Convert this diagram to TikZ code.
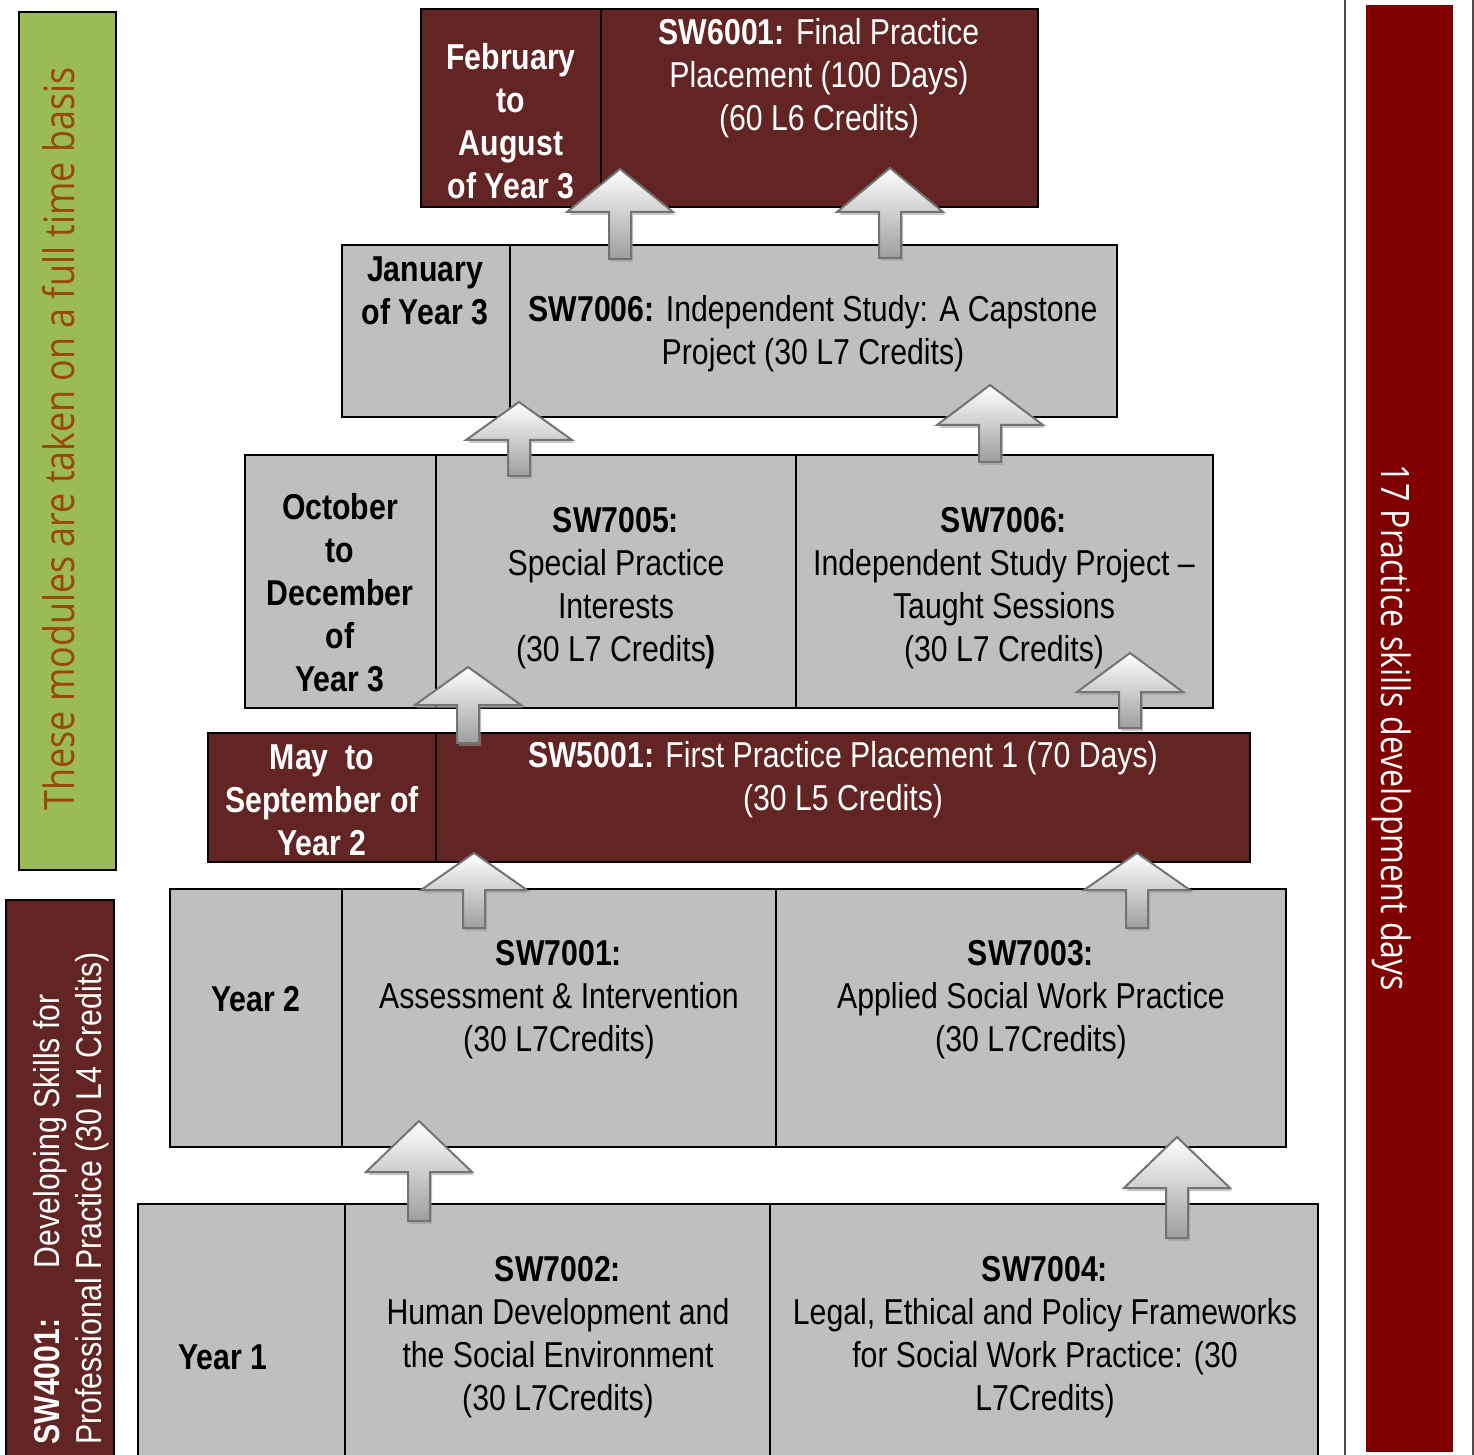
\documentclass[tikz,border=0pt]{standalone}
\usepackage{fontspec}
\setmainfont{Liberation Sans}[FakeStretch=0.84]
\newfontfamily\sidefont{Open Sans}[FakeStretch=0.82]
\newfontfamily\greenfont{Open Sans}[FakeStretch=0.855]
\definecolor{cellred}{HTML}{632523}
\definecolor{cellgrey}{HTML}{BFBFBF}
\definecolor{bargreen}{HTML}{9BBB59}
\definecolor{greentext}{HTML}{984807}
\definecolor{barred}{HTML}{800000}
\newcommand\upblockarrow[4]{%
  \fill[black!40,opacity=.55,shift={(2,3)}] (#1,#2) -- ({#1+53},#3) -- ({#1+11},#3) -- ({#1+11},#4) -- ({#1-11},#4) -- ({#1-11},#3) -- ({#1-53},#3) -- cycle;
  \draw[blockarr] (#1,#2) -- ({#1+53},#3) -- ({#1+11},#3) -- ({#1+11},#4) -- ({#1-11},#4) -- ({#1-11},#3) -- ({#1-53},#3) -- cycle;
}
\begin{document}
\begin{tikzpicture}[x=0.5pt,y=-0.5pt,
  redcell/.style={fill=cellred,draw=black,line width=1pt},
  greycell/.style={fill=cellgrey,draw=black,line width=1pt},
  txt/.style={font=\fontsize{18}{21.5}\selectfont,align=center,inner sep=0pt},
  wtxt/.style={txt,text=white},
  blockarr/.style={draw=black!55,line width=1pt,line join=miter,top color=white,bottom color=black!38}]
\useasboundingbox[fill=white] (0,0) rectangle (1474,1455);

% side bars
\draw[fill=bargreen,line width=1pt] (19,12) rectangle (116,870);
\node[font=\greenfont\fontsize{21}{25}\selectfont,text=greentext,rotate=90,anchor=base,inner sep=0pt] (greenlbl) at (74,439) {These modules are taken on a full time basis};

\draw[fill=cellred,line width=1pt] (6,900) rectangle (114,1470);
\node[font=\fontsize{18}{21.5}\selectfont,text=white,rotate=90,anchor=base west,inner sep=0pt] (sw4001a) at (59,1445) {\textbf{SW4001:}\hspace{1.4em}Developing Skills for};
\node[font=\fontsize{18}{21.5}\selectfont,text=white,rotate=90,anchor=base west,inner sep=0pt] (sw4001b) at (101,1445) {Professional Practice (30 L4 Credits)};

\draw[black!70,line width=1pt] (1345,-10) -- (1345,1470);
\draw[black!70,line width=1pt] (1473,-10) -- (1473,1470);
\fill[barred] (1366,5) rectangle (1453,1452);
\node[font=\sidefont\fontsize{19.6}{24}\selectfont,text=white,rotate=-90,anchor=base,inner sep=0pt] (daylbl) at (1381,728) {17 Practice skills development days};

% row 6
\draw[redcell] (421,9) rectangle (601,207);
\draw[redcell] (601,9) rectangle (1038,207);
\node[wtxt,font=\fontsize{18}{21.5}\selectfont\bfseries] (feb) at (511,121) {February\\to\\August\\of Year 3};
\node[wtxt] (sw6001) at (819,78) {\textbf{SW6001:} Final Practice\\Placement (100 Days)\\(60 L6 Credits)};

% row 5
\draw[greycell] (342,245) rectangle (510,417);
\draw[greycell] (510,245) rectangle (1117,417);
\node[txt,font=\fontsize{18}{21.5}\selectfont\bfseries] (jan) at (425,291) {January\\of Year 3};
\node[txt] (sw7006a) at (813,334) {\textbf{SW7006:} Independent Study: A Capstone\\Project (30 L7 Credits)};

% row 4
\draw[greycell] (245,455) rectangle (436,708);
\draw[greycell] (436,455) rectangle (796,708);
\draw[greycell] (796,455) rectangle (1213,708);
\node[txt,font=\fontsize{18}{21.5}\selectfont\bfseries] (oct) at (340,593) {October\\to\\December\\of\\Year 3};
\node[txt] (sw7005) at (616,588) {\textbf{SW7005:}\\Special Practice\\Interests\\(30 L7 Credits\textbf{)}};
\node[txt] (sw7006b) at (1004,588) {\textbf{SW7006:}\\Independent Study Project --\\Taught Sessions\\(30 L7 Credits)};

% row 3
\draw[redcell] (208,733) rectangle (436,862);
\draw[redcell] (436,733) rectangle (1250,862);
\node[wtxt,font=\fontsize{18}{21.5}\selectfont\bfseries] (may) at (322,800) {May~~to\\September of\\Year 2};
\node[wtxt] (sw5001) at (843,780) {\textbf{SW5001:} First Practice Placement 1 (70 Days)\\(30 L5 Credits)};

% row 2
\draw[greycell] (170,889) rectangle (342,1147);
\draw[greycell] (342,889) rectangle (776,1147);
\draw[greycell] (776,889) rectangle (1286,1147);
\node[txt,font=\fontsize{18}{21.5}\selectfont\bfseries] (year2) at (256,999) {Year 2};
\node[txt] (sw7001) at (559,1000) {\textbf{SW7001:}\\Assessment \& Intervention\\(30 L7Credits)};
\node[txt] (sw7003) at (1031,1000) {\textbf{SW7003:}\\Applied Social Work Practice\\(30 L7Credits)};

% row 1
\draw[greycell] (138,1204) rectangle (345,1470);
\draw[greycell] (345,1204) rectangle (770,1470);
\draw[greycell] (770,1204) rectangle (1318,1470);
\node[txt,font=\fontsize{18}{21.5}\selectfont\bfseries] (year1) at (223,1357) {Year 1};
\node[txt] (sw7002) at (558,1337) {\textbf{SW7002:}\\Human Development and\\the Social Environment\\(30 L7Credits)};
\node[txt] (sw7004) at (1045,1337) {\textbf{SW7004:}\\Legal, Ethical and Policy Frameworks\\for Social Work Practice: (30\\L7Credits)};

% block arrows
\upblockarrow{620}{169}{212}{259}
\upblockarrow{890}{168}{212}{258}
\upblockarrow{519}{402}{440}{476}
\upblockarrow{990}{385}{425}{462}
\upblockarrow{468}{667}{705}{743}
\upblockarrow{1130}{653}{692}{728}
\upblockarrow{474}{853}{890}{928}
\upblockarrow{1137}{853}{890}{928}
\upblockarrow{419}{1121}{1172}{1221}
\upblockarrow{1177}{1137}{1188}{1238}
\end{tikzpicture}
\end{document}
